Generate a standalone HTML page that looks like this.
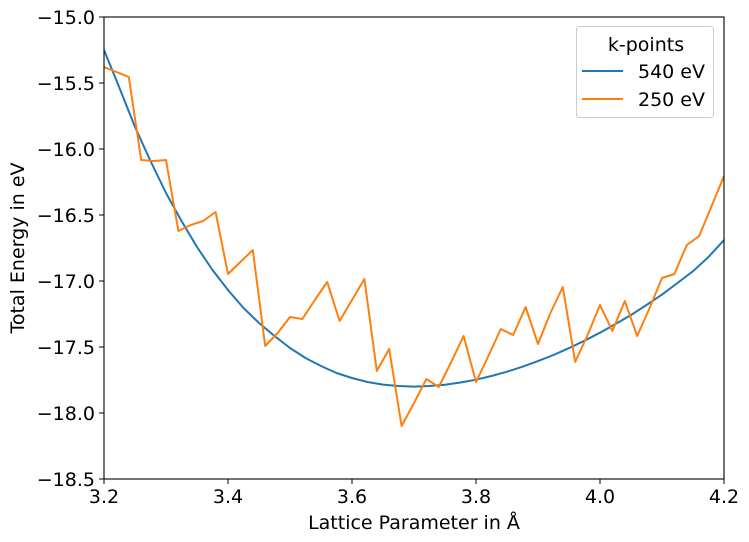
<!DOCTYPE html>
<html><head><meta charset="utf-8"><style>
body{margin:0;background:#fff;}
svg{display:block;font-family:"DejaVu Sans","Liberation Sans",sans-serif;}
</style></head><body>
<svg width="749" height="542" viewBox="0 0 749 542">
<rect width="749" height="542" fill="#fff"/>
<defs><clipPath id="c"><rect x="104" y="17" width="620" height="462"/></clipPath></defs>
<g fill="none" stroke-width="2" stroke-linejoin="round" clip-path="url(#c)">
<polyline stroke="#1f77b4" points="104,50 119.5,88 135,127 150.5,161 166,193 181.5,221 197,247 212.5,270 228,290 243.5,308 259,323 274.5,336 290,348 305.5,358 321,366 336.5,373 352,378 367.5,382 383,384.6 398.5,386 414,386.6 429.5,386 445,384.8 460.5,382.5 476,379.7 491.5,376 507,371.7 522.5,366.7 538,361.1 553.5,355 569,348.1 584.5,340.7 600,332.7 615.5,324 631,315 646.5,305 662,294.6 677.5,283 693,271.2 708.5,257 724,240"/>
<polyline stroke="#ff7f0e" points="104,67 116.4,72 128.8,77 141.2,160 153.6,161 166,160 178.4,231 190.8,225 203.2,221 215.6,212 228,274 240.4,262 252.8,250 265.2,346 277.6,333 290,317 302.4,319 314.8,300 327.2,282 339.6,321 352,300 364.4,279 376.8,371 389.2,349 401.6,426 414,403 426.4,379 438.8,387 451.2,362 463.6,336 476,382 488.4,356 500.8,329 513.2,335 525.6,307 538,344 550.4,313 562.8,287 575.2,362 587.6,335 600,305 612.4,331 624.8,301 637.2,336 649.6,308 662,278 674.4,274 686.8,245 699.2,236 711.6,206 724,176"/>
</g>
<rect x="104" y="17" width="620" height="462" fill="none" stroke="#000" stroke-width="1.1"/>
<g stroke="#000" stroke-width="1">
<line x1="104" y1="479" x2="104" y2="484"/><line x1="228" y1="479" x2="228" y2="484"/><line x1="352" y1="479" x2="352" y2="484"/><line x1="476" y1="479" x2="476" y2="484"/><line x1="600" y1="479" x2="600" y2="484"/><line x1="724" y1="479" x2="724" y2="484"/>
<line x1="99" y1="17" x2="104" y2="17"/><line x1="99" y1="83" x2="104" y2="83"/><line x1="99" y1="149" x2="104" y2="149"/><line x1="99" y1="215" x2="104" y2="215"/><line x1="99" y1="281" x2="104" y2="281"/><line x1="99" y1="347" x2="104" y2="347"/><line x1="99" y1="413" x2="104" y2="413"/><line x1="99" y1="479" x2="104" y2="479"/>
</g>
<g font-size="19" fill="#000" text-anchor="middle">
<text x="104" y="503">3.2</text><text x="228" y="503">3.4</text><text x="352" y="503">3.6</text><text x="476" y="503">3.8</text><text x="600" y="503">4.0</text><text x="724" y="503">4.2</text>
<text x="414" y="529">Lattice Parameter in Å</text>
</g>
<g font-size="19" fill="#000" text-anchor="end">
<text x="95" y="24">−15.0</text><text x="95" y="90">−15.5</text><text x="95" y="156">−16.0</text><text x="95" y="222">−16.5</text><text x="95" y="288">−17.0</text><text x="95" y="354">−17.5</text><text x="95" y="420">−18.0</text><text x="95" y="486">−18.5</text>
</g>
<text transform="translate(24,248) rotate(-90)" font-size="19" text-anchor="middle">Total Energy in eV</text>
<rect x="576.5" y="26.5" width="137" height="91" rx="3" fill="#fff" fill-opacity="0.8" stroke="#ccc"/>
<text x="646" y="51" font-size="19" text-anchor="middle">k-points</text>
<line x1="582" y1="71" x2="623" y2="71" stroke="#1f77b4" stroke-width="2"/>
<text x="638" y="78" font-size="19">540 eV</text>
<line x1="582" y1="99" x2="623" y2="99" stroke="#ff7f0e" stroke-width="2"/>
<text x="638" y="106" font-size="19">250 eV</text>
</svg>
</body></html>
